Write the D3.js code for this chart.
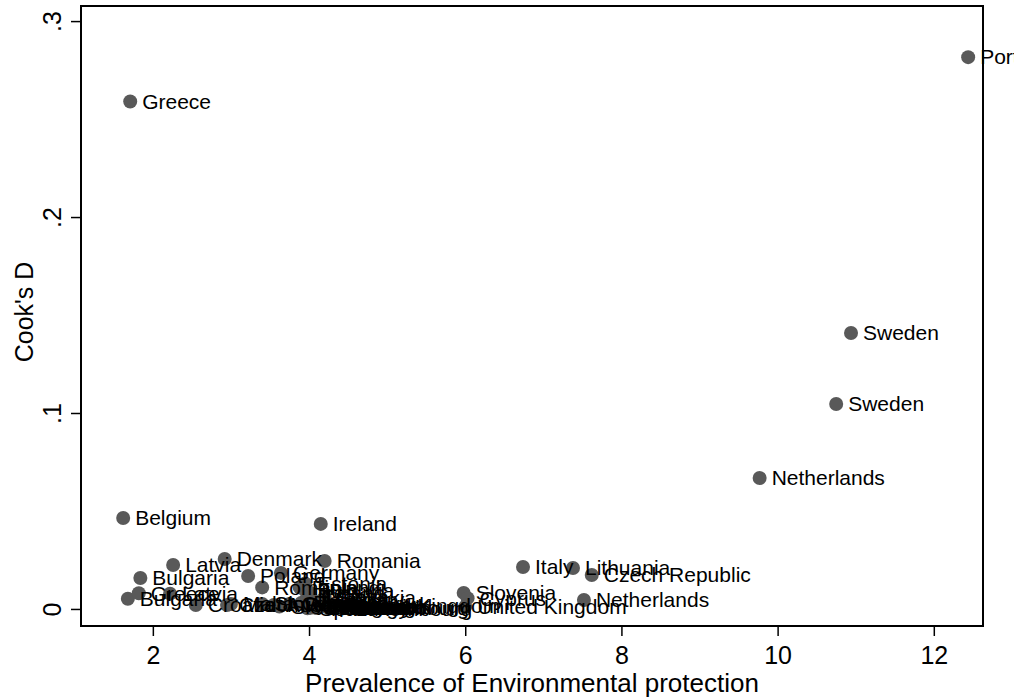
<!DOCTYPE html>
<meta charset="utf-8">
<style>
body { margin: 0; background: #fff; }
text { font-family: "Liberation Sans", Arial, sans-serif; fill: #000; }
.frame { fill: none; stroke: #000; stroke-width: 2; }
.dot { fill: #595959; }
</style>
<body>
<script src="https://d3js.org/d3.v7.min.js"></script>
<script>
// country labels, x = prevalence, y = Cook's D
var countries = ["Portugal","Greece","Sweden","Sweden","Netherlands","Belgium","Ireland","Denmark","Romania","Latvia",
  "Italy","Lithuania","Czech Republic","Bulgaria","Poland","Germany","Netherlands","Slovenia","Cyprus","Bulgaria",
  "Greece","Latvia","Croatia","Czech Republic","Romania","Slovakia","Finland","Bulgaria","Estonia","Ireland",
  "Austria","France","Spain","Malta","Luxembourg","Portugal","Denmark","Belgium","Estonia","Finland",
  "Austria","Spain","France","Germany","Luxembourg","United Kingdom","Slovakia","Hungary","Italy","Cyprus",
  "Malta","United Kingdom","Croatia","Hungary","Lithuania","Slovenia"];
var prevalence = [12.44,1.71,10.94,10.75,9.77,1.62,4.15,2.92,4.20,2.26,
  6.74,7.38,7.62,1.84,3.22,3.64,7.52,5.98,6.03,1.68,
  1.82,2.22,2.55,2.95,3.40,3.40,3.88,3.95,3.95,4.00,
  3.55,3.90,4.05,4.10,4.40,4.42,4.30,4.45,4.35,4.25,
  4.12,3.98,4.40,4.02,4.44,6.00,4.20,4.05,3.95,3.75,
  3.00,4.38,4.00,4.15,4.08,3.62];
var cooksD = [0.2816,0.2590,0.1408,0.1046,0.0668,0.0464,0.0434,0.0255,0.0245,0.0224,
  0.0214,0.0209,0.0173,0.0158,0.0168,0.0184,0.0046,0.0082,0.0055,0.0052,
  0.0080,0.0078,0.0020,0.0020,0.0110,0.0025,0.0110,0.0095,0.0130,0.0085,
  0.0020,0.0030,0.0015,0.0005,0.0005,0.0010,0.0020,0.0005,0.0010,0.0005,
  0.0008,0.0003,0.0012,0.0006,0.0004,0.0012,0.0060,0.0045,0.0040,0.0025,
  0.0025,0.0015,0.0065,0.0012,0.0007,0.0012];
var xTicks = [2,4,6,8,10,12];
var yTicks = [0,0.1,0.2,0.3];
var yTickLabels = ["0",".1",".2",".3"];

var W = 1014, H = 698;
var plot = {left: 81, right: 983, top: 6, bottom: 626};

var x = d3.scaleLinear().domain([1.08, 12.63]).range([plot.left, plot.right]);
var y = d3.scaleLinear().domain([-0.0087, 0.3077]).range([plot.bottom, plot.top]);

var svg = d3.select("body").append("svg")
    .attr("width", W)
    .attr("height", H);

var data = countries.map(function(c, i) {
  return {name: c, px: prevalence[i], d: cooksD[i]};
});

// x axis
var xAxis = d3.axisBottom(x).tickValues(xTicks).tickSize(10).tickPadding(10)
    .tickFormat(d3.format("d"));
var gx = svg.append("g")
    .attr("transform", "translate(0," + plot.bottom + ")")
    .call(xAxis);
gx.select(".domain").remove();
gx.selectAll("line").attr("stroke", "#000").attr("stroke-width", 1.5);
gx.selectAll("text").attr("font-size", 25).attr("y", 20).attr("dy", "0.71em")
    .style("font-family", "'Liberation Sans', Arial, sans-serif");

// y axis
var yAxis = d3.axisLeft(y).tickValues(yTicks).tickSize(10)
    .tickFormat(function(d, i) { return yTickLabels[i]; });
var gy = svg.append("g")
    .attr("transform", "translate(" + plot.left + ",0)")
    .call(yAxis);
gy.select(".domain").remove();
gy.selectAll("line").attr("stroke", "#000").attr("stroke-width", 1.5);
gy.selectAll("text")
    .attr("font-size", 25)
    .style("font-family", "'Liberation Sans', Arial, sans-serif")
    .attr("text-anchor", "middle")
    .attr("x", 0).attr("dy", 0)
    .attr("transform", "translate(-12,0) rotate(-90) translate(0,-8)");

// axis titles
svg.append("text")
    .attr("x", 532)
    .attr("y", 692)
    .attr("text-anchor", "middle")
    .attr("font-size", 26)
    .text("Prevalence of Environmental protection");

svg.append("text")
    .attr("transform", "translate(33,312) rotate(-90)")
    .attr("text-anchor", "middle")
    .attr("font-size", 25)
    .text("Cook's D");

// markers first, then labels on top
svg.selectAll(".dot")
    .data(data)
  .enter().append("circle")
    .attr("class", "dot")
    .attr("cx", function(d) { return x(d.px); })
    .attr("cy", function(d) { return y(d.d); })
    .attr("r", 7);

svg.selectAll(".lbl")
    .data(data)
  .enter().append("text")
    .attr("class", "lbl")
    .attr("x", function(d) { return x(d.px) + 12; })
    .attr("y", function(d) { return y(d.d); })
    .attr("dy", "0.35em")
    .attr("font-size", 21)
    .text(function(d) { return d.name; });

// plot frame drawn last
svg.append("rect")
    .attr("class", "frame")
    .attr("x", plot.left)
    .attr("y", plot.top)
    .attr("width", plot.right - plot.left)
    .attr("height", plot.bottom - plot.top);
</script>
</body>
